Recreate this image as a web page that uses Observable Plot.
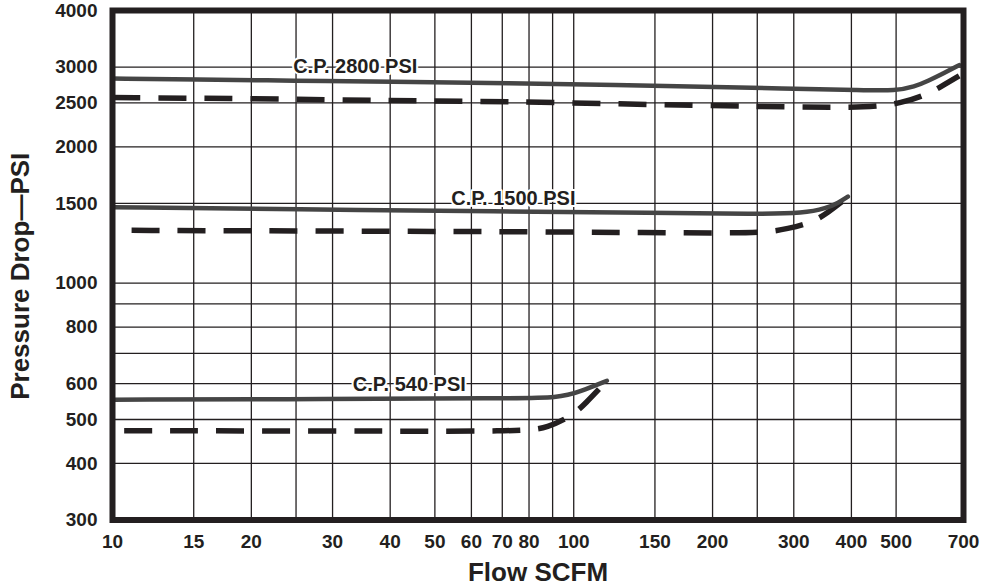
<!DOCTYPE html>
<html><head><meta charset="utf-8">
<script src="https://cdn.jsdelivr.net/npm/d3@7"></script>
<script src="https://cdn.jsdelivr.net/npm/@observablehq/plot@0.6"></script>
<style>
body{margin:0;background:#fff}
#chart svg{display:block}
</style>
</head><body><div id="chart"></div>
<script>
// Axis ticks and grid
const xTicks = [10, 15, 20, 30, 40, 50, 60, 70, 80, 100, 150, 200, 300, 400, 500, 700];
const xGrid = [15, 20, 25, 30, 40, 50, 60, 70, 80, 90, 100, 150, 200, 250, 300, 400, 500];
const yTicks = [300, 400, 500, 600, 800, 1000, 1500, 2000, 2500, 3000, 4000];
const yGrid = [400, 500, 600, 700, 800, 900, 1000, 1500, 2000, 2500, 3000];

// C.P. 2800 PSI
const flow2800Solid = [10, 15, 25, 40, 70, 150, 300, 420, 500, 548, 588, 633, 685];
const psi2800Solid  = [2830, 2815, 2800, 2785, 2764, 2730, 2688, 2670, 2660, 2715, 2800, 2905, 3030];
const flow2800Dash  = [10, 20, 40, 70, 150, 300, 440, 515, 580, 625, 685];
const psi2800Dash   = [2570, 2555, 2530, 2520, 2478, 2448, 2440, 2500, 2604, 2714, 2870];

// C.P. 1500 PSI
const flow1500Solid = [10, 25, 70, 150, 250, 316, 353, 375, 393];
const psi1500Solid  = [1471, 1456, 1440, 1430, 1420, 1427, 1464, 1505, 1553];
const flow1500Dash  = [11, 20, 40, 70, 150, 220, 263, 290, 328, 355, 393];
const psi1500Dash   = [1308, 1305, 1302, 1300, 1293, 1290, 1295, 1318, 1360, 1428, 1550];

// C.P. 540 PSI
const flow540Solid = [10, 30, 70, 93.7, 103, 118];
const psi540Solid  = [553, 555, 557, 558, 576, 609];
const flow540Dash  = [10.6, 30, 78.6, 87.7, 98.8, 106, 118];
const psi540Dash   = [472, 472, 470, 480, 508, 542, 609];

// Curve labels
const labelText = ["C.P. 2800 PSI", "C.P. 1500 PSI", "C.P. 540 PSI"];
const labelFlow = [33.6, 74, 44];
const labelPsi  = [3000, 1535, 598];

function rows(name, flows, psis) {
  return flows.map((f, i) => ({series: name, flow: f, psi: psis[i]}));
}
const solidRows = [
  ...rows("2800", flow2800Solid, psi2800Solid),
  ...rows("1500", flow1500Solid, psi1500Solid),
  ...rows("540", flow540Solid, psi540Solid)
];
const dashRows = [
  ...rows("2800", flow2800Dash, psi2800Dash),
  ...rows("1500", flow1500Dash, psi1500Dash),
  ...rows("540", flow540Dash, psi540Dash)
];
const labels = labelText.map((t, i) => ({text: t, flow: labelFlow[i], psi: labelPsi[i]}));

const ink = "#231f20";

const chart = Plot.plot({
  width: 984,
  height: 588,
  marginLeft: 112,
  marginRight: 21,
  marginTop: 10,
  marginBottom: 68.5,
  style: {fontFamily: "'Liberation Sans', Arial, Helvetica, sans-serif", fontSize: "19px", fontWeight: "bold", color: ink, background: "#fff"},
  x: {type: "log", domain: [10, 700], axis: null},
  y: {type: "log", domain: [300, 4000], axis: null},
  marks: [
    Plot.ruleX(xGrid, {stroke: ink, strokeWidth: 1.3}),
    Plot.ruleY(yGrid, {stroke: ink, strokeWidth: 1.3}),
    // tick labels
    Plot.text(xTicks, {x: d => d, frameAnchor: "bottom", dy: 14, lineAnchor: "top", text: d => String(d), fontSize: 19, fontWeight: "bold", fill: ink}),
    Plot.text(yTicks, {y: d => d, frameAnchor: "left", dx: -15, textAnchor: "end", lineAnchor: "middle", text: d => String(d), fontSize: 19, fontWeight: "bold", fill: ink}),
    Plot.line(dashRows, {x: "flow", y: "psi", z: "series", stroke: ink, strokeWidth: 5.5, strokeDasharray: "28,18", strokeLinecap: "butt", curve: "basis"}),
    Plot.line(solidRows, {x: "flow", y: "psi", z: "series", stroke: "#454545", strokeWidth: 4.5, curve: "basis"}),
    Plot.text(labels, {x: "flow", y: "psi", text: "text", fill: ink, stroke: "white", strokeWidth: 4, fontSize: 20, fontWeight: "bold"}),
    Plot.frame({stroke: ink, strokeWidth: 6}),
    Plot.text(["Flow SCFM"], {frameAnchor: "bottom", dy: 53, lineAnchor: "middle", fontSize: 26, fontWeight: "bold", fill: ink}),
    Plot.text(["Pressure Drop\u2014PSI"], {frameAnchor: "left", dx: -92, dy: 11, rotate: -90, lineAnchor: "middle", textAnchor: "middle", fontSize: 26, fontWeight: "bold", fill: ink})
  ]
});
document.getElementById("chart").appendChild(chart);
</script>
</body></html>
